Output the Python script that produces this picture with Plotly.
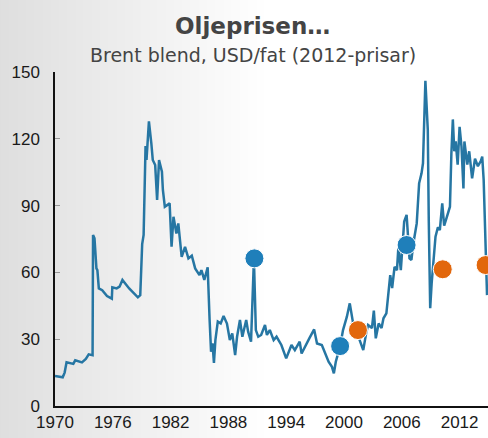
import plotly.graph_objects as go

years = [1970.0, 1970.8, 1971.0, 1971.2, 1971.9, 1972.1, 1972.8, 1973.2, 1973.5, 1973.9,
         1973.95, 1974.1, 1974.3, 1974.4, 1974.55, 1974.9, 1975.4, 1975.9, 1975.95, 1976.4,
         1976.7, 1977.0, 1977.7, 1978.4, 1978.6, 1978.85, 1979.05, 1979.2, 1979.4, 1979.5,
         1979.6, 1979.75, 1980.0, 1980.15, 1980.4, 1980.6, 1980.8, 1981.1, 1981.2, 1981.4,
         1981.9, 1982.1, 1982.3, 1982.6, 1982.8, 1983.15, 1983.5, 1983.85, 1984.2, 1984.55,
         1985.0, 1985.2, 1985.5, 1985.85, 1986.05, 1986.2, 1986.35, 1986.5, 1986.65, 1986.9,
         1987.2, 1987.5, 1987.85, 1988.15, 1988.4, 1988.7, 1988.9, 1989.2, 1989.45, 1989.85,
         1990.05, 1990.35, 1990.65, 1990.85, 1991.1, 1991.4, 1991.8, 1992.0, 1992.3, 1992.7,
         1993.0, 1993.5, 1994.0, 1994.55, 1994.9, 1995.4, 1995.6, 1996.1, 1996.4, 1996.9,
         1997.2, 1997.7, 1998.05, 1998.4, 1998.75, 1998.95, 1999.15, 1999.6, 1999.9, 2000.3,
         2000.6, 2000.95, 2001.3, 2001.65, 2002.0, 2002.3, 2002.5, 2002.9, 2003.1, 2003.3,
         2003.6, 2003.9, 2004.1, 2004.4, 2004.6, 2004.8, 2005.0, 2005.25, 2005.5, 2005.65,
         2005.9, 2006.25, 2006.5, 2006.8, 2007.0, 2007.2, 2007.55, 2007.8, 2008.05, 2008.2,
         2008.45, 2008.7, 2008.8, 2008.95, 2009.1, 2009.3, 2009.5, 2009.75, 2009.95, 2010.2,
         2010.4, 2010.65, 2011.0, 2011.15, 2011.3, 2011.45, 2011.6, 2011.8, 2012.0, 2012.2,
         2012.4, 2012.5, 2012.8, 2013.0, 2013.2, 2013.3, 2013.6, 2013.9, 2014.2, 2014.35,
         2014.5, 2014.75, 2014.85]
prices = [13.5, 12.9, 15.0, 19.6, 18.9, 20.5, 19.6, 21.1, 23.2, 22.8,
          76.8, 75.3, 61.8, 61.0, 52.8, 52.0, 49.4, 48.2, 53.3, 52.8,
          53.6, 56.6, 52.8, 49.4, 48.8, 49.8, 72.7, 76.8, 116.7, 110.5,
          116.4, 127.8, 118.0, 110.5, 108.2, 92.5, 110.5, 105.2, 97.0, 89.5,
          91.0, 71.5, 85.0, 77.5, 82.0, 67.0, 71.5, 66.3, 67.5, 61.8,
          58.8, 61.0, 56.6, 62.3, 38.6, 24.4, 28.1, 19.4, 29.6, 37.9,
          37.1, 40.4, 37.0, 29.6, 32.6, 22.9, 31.1, 38.6, 31.1, 38.6,
          33.4, 28.9, 66.0, 34.1, 31.1, 31.9, 36.4, 31.9, 34.1, 29.6,
          31.1, 27.4, 21.4, 27.4, 25.1, 28.9, 23.6, 28.1, 30.4, 34.4,
          28.1, 27.4, 23.7, 19.9, 17.6, 14.7, 19.9, 26.9, 34.1, 40.1,
          46.1, 37.1, 33.5, 29.6, 25.1, 32.6, 36.4, 35.0, 42.8, 30.4,
          37.1, 35.0, 39.4, 41.6, 49.1, 58.8, 53.0, 62.5, 61.0, 71.5,
          61.0, 82.8, 85.8, 66.3, 65.6, 73.0, 82.0, 100.0, 104.5, 109.0,
          146.0, 124.0, 83.5, 43.9, 55.1, 67.0, 76.0, 80.3, 79.0, 91.0,
          81.0, 84.5, 89.5, 113.5, 128.7, 114.4, 118.8, 108.4, 125.4, 116.5,
          97.7, 118.8, 108.4, 114.4, 107.7, 102.2, 111.1, 107.7, 110.0, 112.0,
          101.5, 58.0, 49.8]

blue_x = [1990.7, 1999.6, 2006.5]
blue_y = [66.3, 26.9, 72.3]
orange_x = [2001.45, 2010.25, 2014.7]
orange_y = [34.1, 61.4, 63.3]

y_ticks = [0, 30, 60, 90, 120, 150]
x_ticks = [1970, 1976, 1982, 1988, 1994, 2000, 2006, 2012]

title_text = "Oljeprisen…"
subtitle_text = "Brent blend, USD/fat (2012-prisar)"

fig = go.Figure()
fig.add_trace(go.Scatter(x=years, y=prices, mode="lines",
                         line=dict(color="#2676A3", width=2.5), hoverinfo="skip"))
fig.add_trace(go.Scatter(x=blue_x, y=blue_y, mode="markers",
                         marker=dict(size=19, color="#1F7FBA", line=dict(color="white", width=1))))
fig.add_trace(go.Scatter(x=orange_x, y=orange_y, mode="markers",
                         marker=dict(size=19, color="#E2670C", line=dict(color="white", width=1))))

# soft grey gradient on the left side of the background
shapes = []
n = 36
for i in range(n):
    shapes.append(dict(type="rect", xref="paper", yref="paper",
                       x0=-0.2, x1=-0.2 + (i + 1) * 0.019, y0=-0.2, y1=1.3,
                       fillcolor="rgba(200,200,200,0.012)", line=dict(width=0),
                       layer="below"))

plot_h = 438 - 72 - 32
fig.update_layout(
    width=488, height=438,
    margin=dict(l=55, r=0, t=72, b=32),
    paper_bgcolor="white", plot_bgcolor="rgba(0,0,0,0)",
    showlegend=False,
    shapes=shapes,
    font=dict(family="Liberation Sans", size=17, color="#1a1a1a"),
    annotations=[
        dict(text="<b>" + title_text + "</b>", xref="paper", yref="paper",
             x=(252 - 55) / 433, y=(406 - 26) / plot_h, xanchor="center", yanchor="middle",
             showarrow=False, font=dict(family="DejaVu Sans", size=23, color="#444444")),
        dict(text=subtitle_text, xref="paper", yref="paper",
             x=(253 - 55) / 433, y=(406 - 55) / plot_h, xanchor="center", yanchor="middle",
             showarrow=False, font=dict(family="DejaVu Sans", size=19, color="#444444")),
    ],
)
fig.update_xaxes(range=[1970, 2014.95], tickvals=x_ticks, ticktext=[str(v) for v in x_ticks],
                 showgrid=False, zeroline=False, showline=True, linecolor="#111111",
                 linewidth=1.5, ticks="")
fig.update_yaxes(range=[0, 150], tickvals=y_ticks, showgrid=False, zeroline=False,
                 showline=True, linecolor="#111111", linewidth=1.5,
                 ticks="inside", ticklen=5, tickcolor="#999999", ticklabelstandoff=10)

fig.write_html("out.html", config={"displayModeBar": False},
               post_script="document.body.style.margin='0';document.body.style.overflow='hidden';")
